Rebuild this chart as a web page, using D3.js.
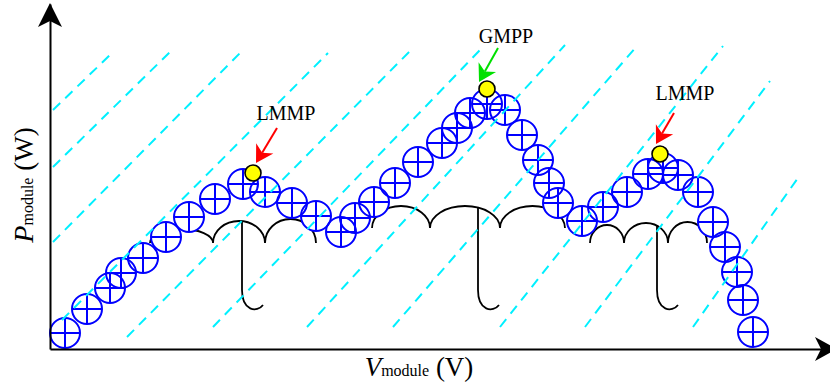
<!DOCTYPE html>
<html>
<head>
<meta charset="utf-8">
<script src="https://cdn.jsdelivr.net/npm/d3@7"></script>
<style>
  html, body { margin: 0; padding: 0; background: #fff; }
  svg { display: block; }
</style>
</head>
<body>
<svg id="chart" width="830" height="385"></svg>
<script>
// Sampled operating points of the module P–V curve (arbitrary units)
const pvVoltage = [1.5, 3.7, 6.0, 7.1, 9.3, 11.6, 13.9, 16.5, 19.3, 21.5, 24.2, 26.6, 29.1, 30.5,
  32.4, 34.5, 36.8, 39.2, 40.7, 42.0, 43.7, 45.5, 47.2, 48.8, 49.9, 50.8, 53.2, 55.3, 57.7,
  59.8, 61.3, 62.8, 64.8, 66.3, 67.5, 68.7, 69.3, 70.3];
const pvPower = [1.6, 4.0, 6.1, 7.6, 9.1, 11.2, 13.2, 15.0, 16.5, 15.7, 14.6, 13.3, 11.7, 13.1,
  14.7, 16.6, 18.7, 20.6, 22.1, 23.6, 24.5, 23.9, 21.4, 18.9, 16.6, 14.6, 12.8, 14.2, 15.7,
  17.5, 18.1, 17.4, 15.7, 12.7, 10.2, 7.7, 4.9, 1.7];

// Maximum power points and their callouts
const mppLabels = ["LMMP", "GMPP", "LMMP"];
const mppVoltage = [20.3, 43.7, 61.0];
const mppPower = [17.6, 26.0, 19.5];
const arrowTailV = [22.7, 44.8, 62.4];
const arrowTailP = [22.1, 30.1, 23.6];
const arrowTipV = [20.6, 42.9, 60.6];
const arrowTipP = [18.6, 26.7, 20.5];
const labelV = [23.6, 45.6, 63.5];
const labelP = [22.9, 30.6, 24.9];

// Dashed hatching (start / end of each stroke)
const hatchV1 = [0.3, 0.3, 0.3, 1.2, 7.7, 16.3, 25.7, 34.3, 45.0, 53.5, 64.3];
const hatchP1 = [23.9, 18.2, 10.7, 2.9, 1.2, 2.2, 2.2, 2.2, 2.2, 2.2, 2.2];
const hatchV2 = [6.0, 12.2, 19.3, 27.8, 36.3, 43.0, 51.5, 58.7, 67.3, 72.0, 75.0];
const hatchP2 = [29.4, 29.9, 29.9, 29.6, 30.1, 29.9, 30.4, 30.3, 30.3, 26.8, 17.4];

// Umbrella symbols under each hump: canopy cusps, scallop crests, handle
const umbrellaCusps = [[10.0, 16.3, 21.5, 26.6], [32.2, 38.0, 45.0, 51.5], [54.0, 57.4, 61.8, 65.7]];
const umbrellaBaseP = [10.6, 12.1, 10.6];
const umbrellaCrestP = [[12.0, 12.8, 13.0], [14.3, 14.3, 14.3], [12.4, 12.6, 12.7]];
const umbrellaHandleV = [19.2, 42.8, 60.7];
const umbrellaHandleEndP = [3.9, 3.9, 3.9];

const svg = d3.select("#chart");
const x = d3.scaleLinear().domain([0, 78]).range([50, 830]);
const y = d3.scaleLinear().domain([0, 34.5]).range([349, 4]);
const serif = "'Liberation Serif', 'Times New Roman', serif";

// ---- umbrellas (drawn first, partly covered by the markers) ----
const gU = svg.append("g").attr("fill", "none").attr("stroke", "#000").attr("stroke-width", 1.8);
umbrellaCusps.forEach((cusps, i) => {
  const yb = y(umbrellaBaseP[i]);
  let d = `M${x(cusps[0])},${yb}`;
  for (let k = 1; k < cusps.length; k++) {
    const rx = (x(cusps[k]) - x(cusps[k - 1])) / 2;
    const ry = yb - y(umbrellaCrestP[i][k - 1]);
    d += ` A${rx},${ry} 0 0 1 ${x(cusps[k])},${yb}`;
  }
  gU.append("path").attr("d", d);
  // handle starts on the canopy scallop above it
  const hx = x(umbrellaHandleV[i]);
  let top = yb;
  for (let k = 1; k < cusps.length; k++) {
    const a = x(cusps[k - 1]), b = x(cusps[k]);
    if (hx >= a && hx <= b) {
      const cx = (a + b) / 2, rx = (b - a) / 2, ry = yb - y(umbrellaCrestP[i][k - 1]);
      top = yb - ry * Math.sqrt(Math.max(0, 1 - ((hx - cx) / rx) ** 2));
    }
  }
  const hb = y(umbrellaHandleEndP[i]);
  gU.append("path")
    .attr("d", `M${hx},${top} L${hx},${hb - 20} C${hx},${hb + 1} ${hx + 15},${hb + 3} ${hx + 21},${hb - 5}`);
});

// ---- P–V markers: white discs, then outlines with crosses ----
const pts = pvVoltage.map((v, i) => ({ v, p: pvPower[i] }));
const R = 15;
svg.append("g").selectAll("circle").data(pts).join("circle")
  .attr("cx", d => x(d.v)).attr("cy", d => y(d.p)).attr("r", R)
  .attr("fill", "#fff").attr("stroke", "none");
const gM = svg.append("g").attr("stroke", "#0000ff").attr("stroke-width", 2).attr("fill", "none");
const mk = gM.selectAll("g").data(pts).join("g")
  .attr("transform", d => `translate(${x(d.v)},${y(d.p)})`);
mk.append("circle").attr("r", R);
mk.append("path").attr("d", `M${-R},0H${R}M0,${-R}V${R}`);

// ---- dashed hatching ----
svg.append("g").selectAll("line").data(hatchV1.map((v, i) => i)).join("line")
  .attr("x1", i => x(hatchV1[i])).attr("y1", i => y(hatchP1[i]))
  .attr("x2", i => x(hatchV2[i])).attr("y2", i => y(hatchP2[i]))
  .attr("stroke", "#00f0ff").attr("stroke-width", 2).attr("stroke-dasharray", "10,7");

// ---- axes with arrowheads ----
const gx = svg.append("g").attr("transform", `translate(0,${y(0)})`)
  .call(d3.axisBottom(x).tickValues([]).tickSizeOuter(0));
const gy = svg.append("g").attr("transform", `translate(${x(0)},0)`)
  .call(d3.axisLeft(y).tickValues([]).tickSizeOuter(0));
[gx, gy].forEach(g => g.select(".domain").attr("stroke", "#000").attr("stroke-width", 2));
const ax0 = x(0), ay0 = y(0);
svg.append("path").attr("fill", "#000")
  .attr("d", `M${ax0},${y(34.5) - 1} L${ax0 + 12},${y(34.5) + 23} L${ax0},${y(34.5) + 17} L${ax0 - 12},${y(34.5) + 23} Z`);
svg.append("path").attr("fill", "#000")
  .attr("d", `M${x(78) + 7},${ay0} L${x(78) - 15},${ay0 + 12} L${x(78) - 9},${ay0} L${x(78) - 15},${ay0 - 12} Z`);

// axis titles
const xt = svg.append("text").attr("x", 419).attr("y", 376).attr("text-anchor", "middle")
  .attr("font-family", serif).attr("fill", "#000");
xt.append("tspan").attr("font-style", "italic").attr("font-size", 27).text("V");
xt.append("tspan").attr("font-size", 16).text("module");
xt.append("tspan").attr("font-size", 27).text(" (V)");

const yt = svg.append("text").attr("transform", "translate(33,185) rotate(-90)")
  .attr("text-anchor", "middle").attr("font-family", serif).attr("fill", "#000");
yt.append("tspan").attr("font-style", "italic").attr("font-size", 28).text("P");
yt.append("tspan").attr("font-size", 16).text("module");
yt.append("tspan").attr("font-size", 27).text(" (W)");

// ---- MPP markers, callout arrows and labels ----
mppLabels.forEach((lab, i) => {
  const col = lab === "GMPP" ? "#00e000" : "#ff0000";
  const tx = x(arrowTipV[i]), ty = y(arrowTipP[i]);
  const sx = x(arrowTailV[i]), sy = y(arrowTailP[i]);
  const len = Math.hypot(tx - sx, ty - sy), ux = (tx - sx) / len, uy = (ty - sy) / len;
  const px = -uy, py = ux, L = 17, W = 10, N = 12;
  const bx = tx - L * ux, by = ty - L * uy;
  const nx = tx - N * ux, ny = ty - N * uy;
  svg.append("line").attr("x1", sx).attr("y1", sy).attr("x2", nx).attr("y2", ny)
    .attr("stroke", col).attr("stroke-width", 2);
  svg.append("path").attr("fill", col)
    .attr("d", `M${tx},${ty} L${bx + W * px},${by + W * py} L${nx},${ny} L${bx - W * px},${by - W * py} Z`);
  svg.append("circle").attr("cx", x(mppVoltage[i])).attr("cy", y(mppPower[i])).attr("r", 8)
    .attr("fill", "#ffff00").attr("stroke", "#000").attr("stroke-width", 1.6);
  svg.append("text").attr("x", x(labelV[i])).attr("y", y(labelP[i])).attr("text-anchor", "middle")
    .attr("font-family", serif).attr("font-size", 20).attr("fill", "#000").text(lab);
});
</script>
</body>
</html>
